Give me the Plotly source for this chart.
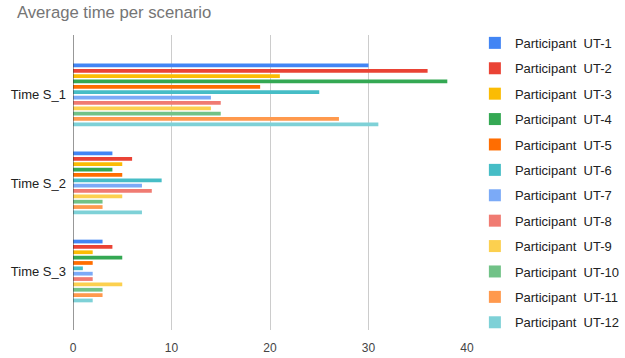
import plotly.graph_objects as go

scenarios = ["Time S_1", "Time S_2", "Time S_3"]
participants = [f"Participant  UT-{i}" for i in range(1, 13)]

ut1 = [30, 4, 3]
ut2 = [36, 6, 4]
ut3 = [21, 5, 2]
ut4 = [38, 4, 5]
ut5 = [19, 5, 2]
ut6 = [25, 9, 1]
ut7 = [14, 7, 2]
ut8 = [15, 8, 2]
ut9 = [14, 5, 5]
ut10 = [15, 3, 3]
ut11 = [27, 3, 3]
ut12 = [31, 7, 2]

series = [ut1, ut2, ut3, ut4, ut5, ut6, ut7, ut8, ut9, ut10, ut11, ut12]
colors = ["#4285F4", "#EA4335", "#FBBC04", "#34A853", "#FF6D01", "#46BDC6",
          "#7BAAF7", "#F07B72", "#FCD04F", "#71C287", "#FF994D", "#7ED1D7"]

fig = go.Figure()
for name, vals, col in zip(participants, series, colors):
    fig.add_trace(go.Bar(
        y=scenarios, x=vals, name=name, orientation="h",
        marker=dict(color=col, line=dict(width=0)),
        legendgroup=name,
    ))

fig.update_layout(
    width=625, height=358,
    margin=dict(l=73, r=158, t=35, b=28, autoexpand=False),
    paper_bgcolor="white", plot_bgcolor="white",
    font=dict(family="Arial, Liberation Sans, sans-serif", size=12, color="#222222"),
    title=dict(text="Average time per scenario", x=0.027, xanchor="left",
               y=0.965, yanchor="middle",
               font=dict(size=16.7, color="#757575")),
    barmode="group", bargap=0.27, bargroupgap=0.3,
    xaxis=dict(range=[0, 40], dtick=10, showgrid=True, gridcolor="#cccccc",
               gridwidth=1, zeroline=False, showline=False,
               tickfont=dict(size=12, color="#444444"), ticks="",
               ticklabelstandoff=9),
    yaxis=dict(categoryorder="array", categoryarray=scenarios,
               range=[2.67, -0.68], showgrid=False, zeroline=False,
               showline=False, ticks="", ticklen=0, ticklabelstandoff=6,
               tickfont=dict(size=13, color="#222222")),
    legend=dict(x=1.02, xanchor="left", y=1.024, yanchor="top",
                traceorder="grouped", tracegroupgap=5.5, maxheight=350,
                font=dict(size=13, color="#222222"), itemwidth=30),
    showlegend=True,
)
# dark baseline at zero
fig.add_shape(type="line", xref="x", yref="paper", x0=0, x1=0, y0=0, y1=1,
              line=dict(color="#333333", width=1))

fig.write_html("out.html")
